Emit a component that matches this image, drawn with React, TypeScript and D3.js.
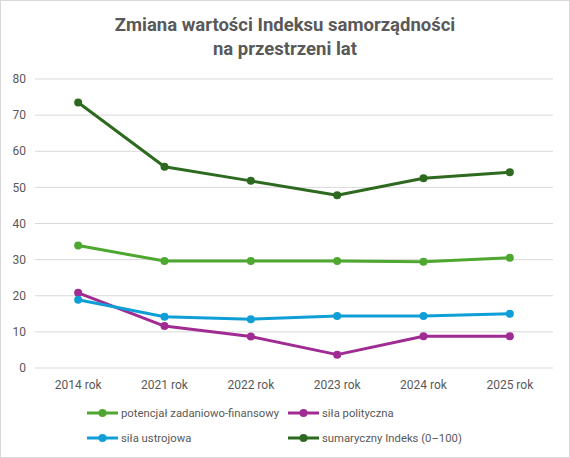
import { useEffect, useRef } from "react";
import * as d3 from "d3";

const categories = ["2014 rok", "2021 rok", "2022 rok", "2023 rok", "2024 rok", "2025 rok"];
const potencjal = [33.9, 29.6, 29.6, 29.6, 29.4, 30.5];
const silaPolityczna = [20.8, 11.6, 8.7, 3.7, 8.8, 8.8];
const silaUstrojowa = [18.9, 14.2, 13.5, 14.4, 14.4, 15.0];
const sumaryczny = [73.5, 55.7, 51.8, 47.8, 52.5, 54.2];
const yTicks = [0, 10, 20, 30, 40, 50, 60, 70, 80];

const seriesNames = [
  "potencjał zadaniowo-finansowy",
  "siła polityczna",
  "siła ustrojowa",
  "sumaryczny Indeks (0–100)",
];
const seriesColors = ["#4ea72e", "#a02b93", "#0f9ed5", "#2d6a1f"];

export default function App() {
  const svgRef = useRef<SVGSVGElement>(null);

  useEffect(() => {
    document.body.style.margin = "0";
    if (!svgRef.current) return;

    const width = 570;
    const height = 458;
    const margin = { top: 79, right: 17, bottom: 90, left: 35 };
    const chartWidth = width - margin.left - margin.right;
    const chartHeight = 368 - margin.top;

    const svg = d3.select(svgRef.current);
    svg.selectAll("*").remove();
    svg.attr("width", width).attr("height", height);

    const font = "Roboto, 'Open Sans', sans-serif";
    const textColor = "#595959";

    // background + border
    svg.append("rect")
      .attr("x", 0.5).attr("y", 0.5)
      .attr("width", width - 1).attr("height", height - 1)
      .attr("fill", "#fff").attr("stroke", "#d9d9d9");

    // title
    const title = svg.append("text")
      .attr("text-anchor", "middle")
      .attr("fill", textColor)
      .style("font-family", font)
      .style("font-size", "18.5px")
      .style("font-weight", "bold");
    title.append("tspan").attr("x", width / 2).attr("y", 31).text("Zmiana wartości Indeksu samorządności");
    title.append("tspan").attr("x", width / 2).attr("y", 55).text("na przestrzeni lat");

    const g = svg.append("g").attr("transform", `translate(${margin.left},${margin.top})`);

    const xScale = d3.scaleBand<string>().domain(categories).range([0, chartWidth]);
    const yScale = d3.scaleLinear().domain([0, 80]).range([chartHeight, 0]);

    // grid lines
    g.append("g")
      .selectAll("line")
      .data(yTicks)
      .join("line")
      .attr("x1", 0).attr("x2", chartWidth)
      .attr("y1", (d) => yScale(d)).attr("y2", (d) => yScale(d))
      .attr("stroke", "#d9d9d9").attr("stroke-width", 1);

    // y labels
    g.append("g")
      .selectAll("text")
      .data(yTicks)
      .join("text")
      .attr("x", -9)
      .attr("y", (d) => yScale(d))
      .attr("dy", "0.35em")
      .attr("text-anchor", "end")
      .attr("fill", textColor)
      .style("font-family", font)
      .style("font-size", "12px")
      .text((d) => d);

    // x labels
    g.append("g")
      .selectAll("text")
      .data(categories)
      .join("text")
      .attr("x", (d) => (xScale(d) ?? 0) + xScale.bandwidth() / 2)
      .attr("y", chartHeight + 21)
      .attr("text-anchor", "middle")
      .attr("fill", textColor)
      .style("font-family", font)
      .style("font-size", "12px")
      .text((d) => d);

    const allSeries = [potencjal, silaPolityczna, silaUstrojowa, sumaryczny];
    const line = d3.line<number>()
      .x((_, i) => (xScale(categories[i]) ?? 0) + xScale.bandwidth() / 2)
      .y((d) => yScale(d));

    allSeries.forEach((values, si) => {
      g.append("path")
        .datum(values)
        .attr("fill", "none")
        .attr("stroke", seriesColors[si])
        .attr("stroke-width", 3)
        .attr("stroke-linejoin", "round")
        .attr("d", line);

      g.append("g")
        .selectAll("circle")
        .data(values)
        .join("circle")
        .attr("cx", (_, i) => (xScale(categories[i]) ?? 0) + xScale.bandwidth() / 2)
        .attr("cy", (d) => yScale(d))
        .attr("r", 4)
        .attr("fill", seriesColors[si]);
    });

    // legend
    const legendPos = [
      { x: 87, y: 413 },
      { x: 288, y: 413 },
      { x: 87, y: 438 },
      { x: 288, y: 438 },
    ];
    seriesNames.forEach((name, i) => {
      const lg = svg.append("g").attr("transform", `translate(${legendPos[i].x},${legendPos[i].y})`);
      lg.append("line")
        .attr("x1", 0).attr("x2", 31)
        .attr("y1", 0).attr("y2", 0)
        .attr("stroke", seriesColors[i]).attr("stroke-width", 3);
      lg.append("circle").attr("cx", 15.5).attr("cy", 0).attr("r", 4).attr("fill", seriesColors[i]);
      lg.append("text")
        .attr("x", 34)
        .attr("dy", "0.35em")
        .attr("fill", textColor)
        .style("font-family", font)
        .style("font-size", "11.3px")
        .text(name);
    });
  }, []);

  return <svg ref={svgRef} viewBox="0 0 570 458" style={{ display: "block" }} />;
}
